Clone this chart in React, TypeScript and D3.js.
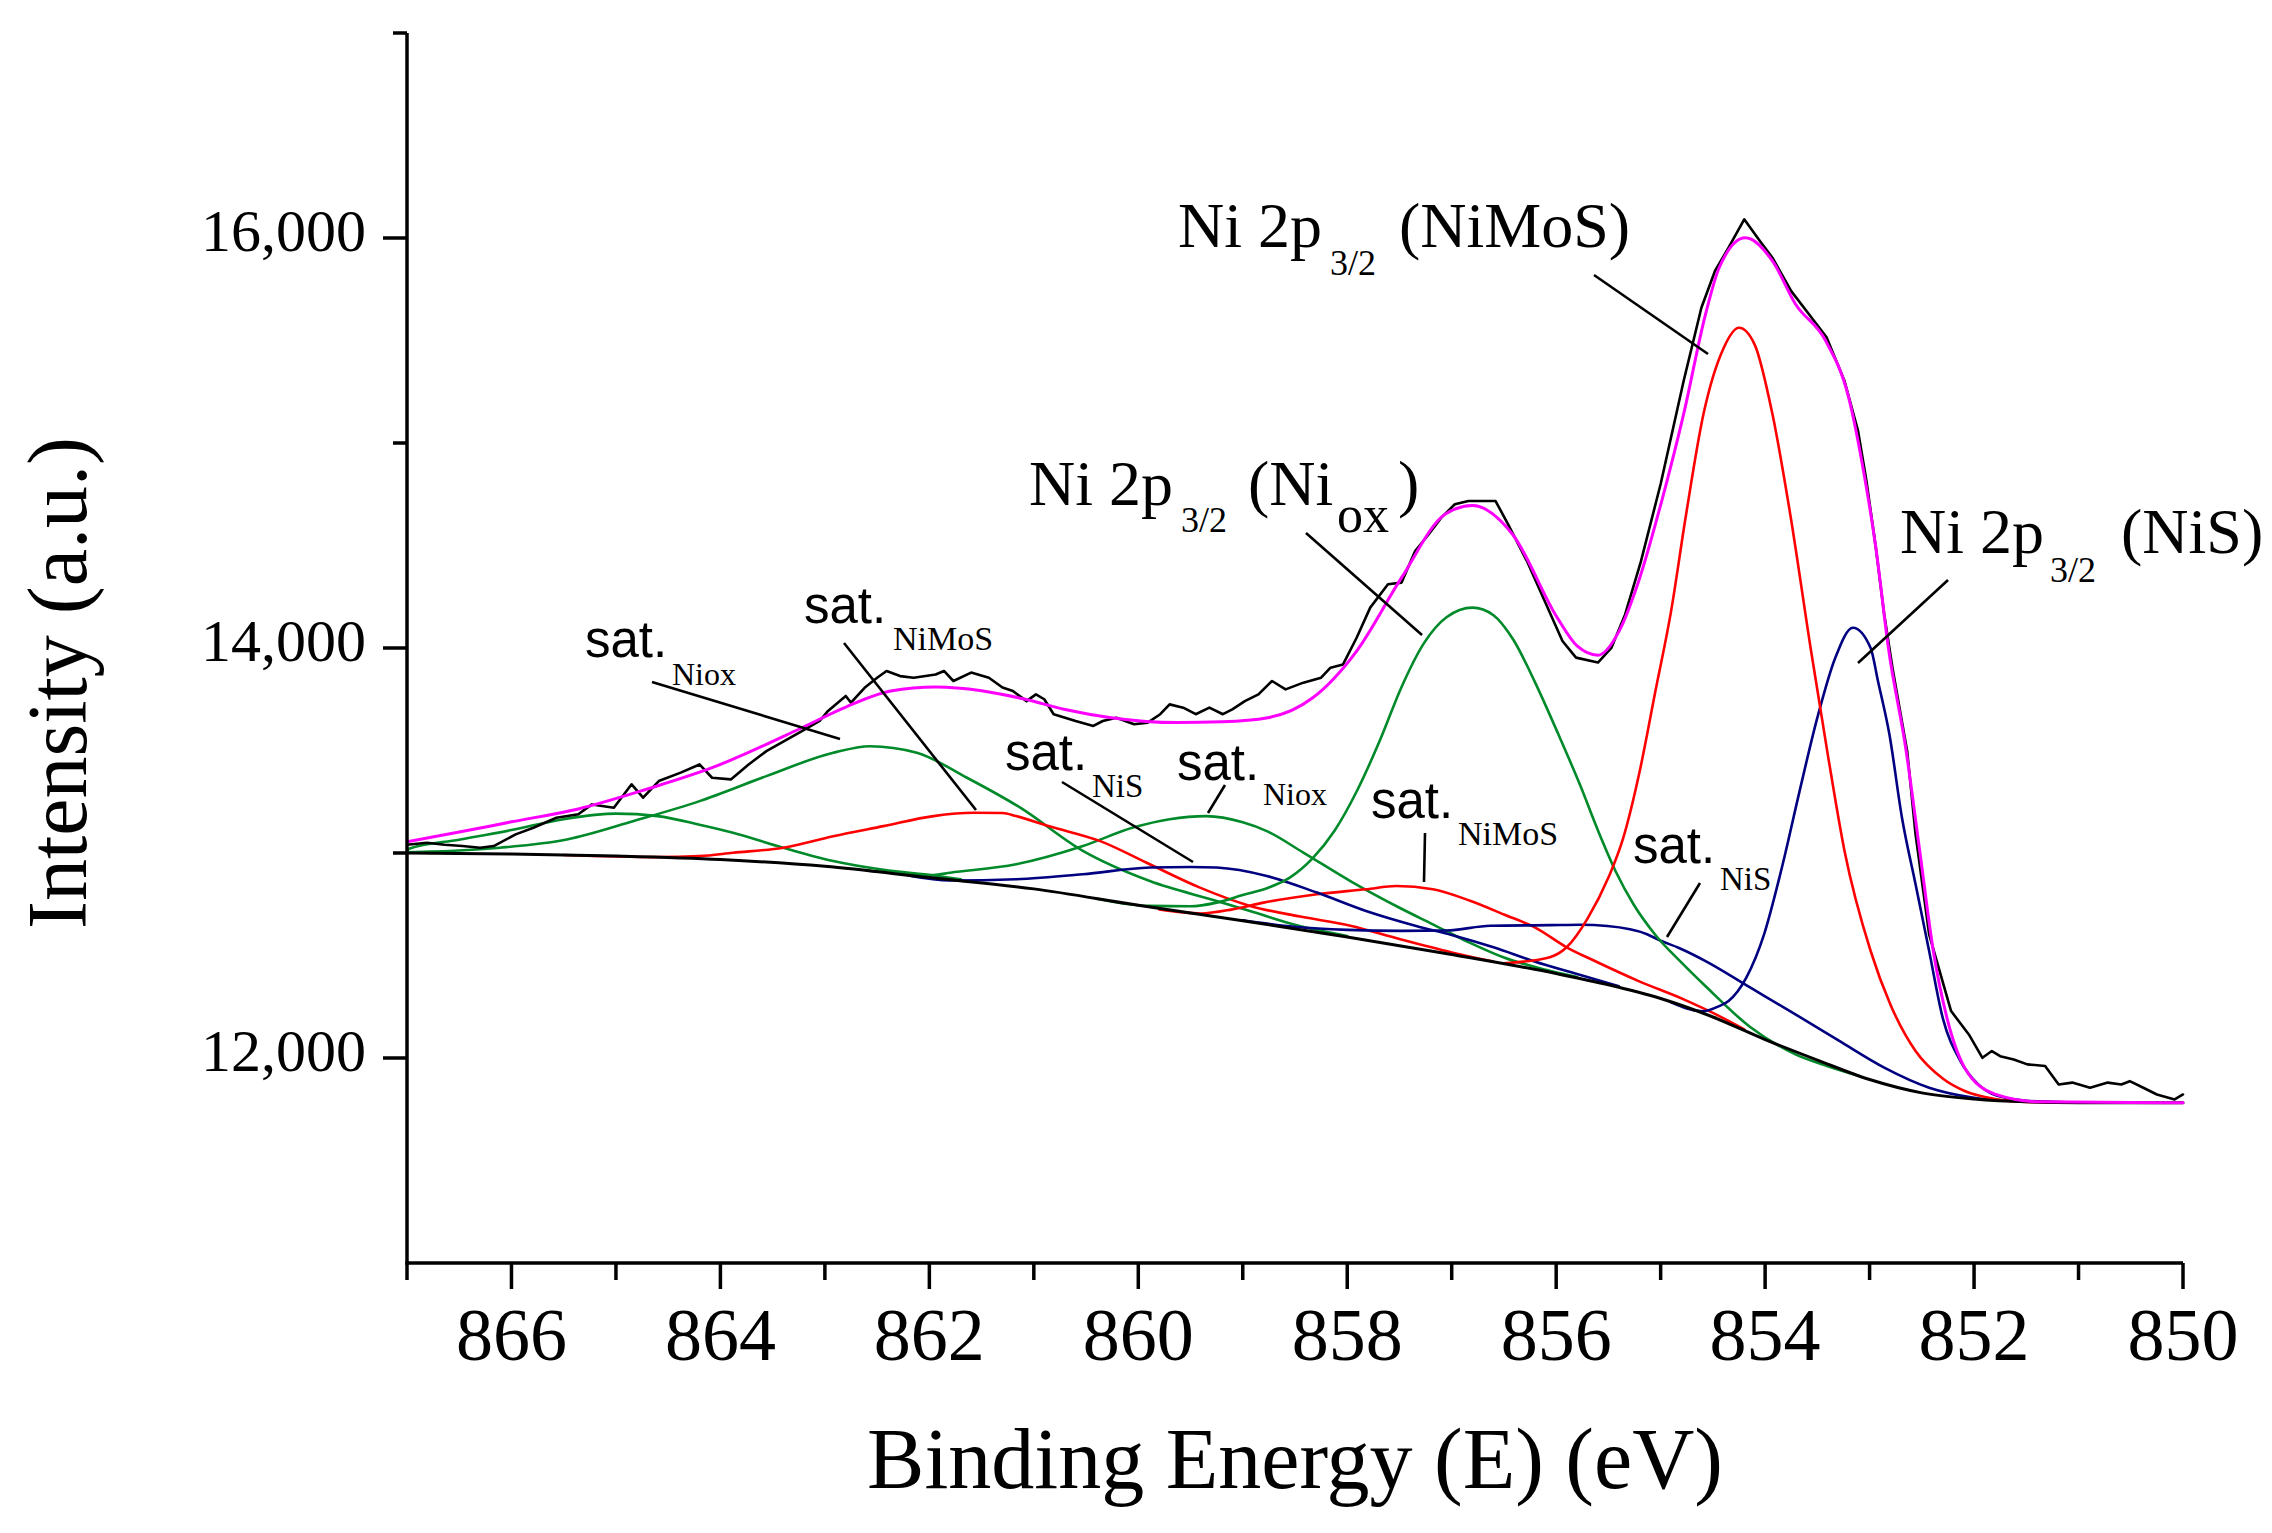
import React from "react";
import * as d3 from "d3";

type Pt = [number, number];

// ---------- DATA (binding energy eV, intensity a.u.) ----------
const xTicks = [866, 864, 862, 860, 858, 856, 854, 852, 850];
const xMinorTicks = [867, 865, 863, 861, 859, 857, 855, 853, 851];
const yTicks = [12000, 14000, 16000];
const yMinorTicks = [13000, 15000, 17000];

const background: Pt[] = [
  [867, 13000], [866, 12995], [865, 12985], [864, 12968], [863, 12935], [862, 12880],
  [861, 12825], [860, 12745], [859, 12670], [858, 12590], [857, 12505], [856, 12412],
  [855.5, 12357], [855, 12290], [854.5, 12200], [854, 12090], [853.5, 11990], [853, 11895],
  [852.5, 11830], [852, 11800], [851.5, 11786], [851, 11782], [850, 11782],
];

const envelope: Pt[] = [
  [867, 13055], [866.5, 13102], [866, 13152], [865.36, 13215], [864.7, 13312], [864.08, 13416],
  [863.22, 13611], [862.8, 13712], [862.37, 13790], [861.94, 13810], [861.5, 13792], [861.09, 13751],
  [860.7, 13700], [860.26, 13660], [859.62, 13636], [859.2, 13640], [858.76, 13660], [858.33, 13757],
  [857.91, 13985], [857.48, 14343], [857.06, 14654], [856.8, 14695], [856.42, 14556], [855.99, 14148],
  [855.8, 14010], [855.6, 13965], [855.4, 14080], [855.21, 14327], [854.99, 14717], [854.78, 15141],
  [854.57, 15629], [854.44, 15855], [854.19, 16001], [853.93, 15888], [853.71, 15678], [853.42, 15498],
  [853.2, 15221], [853.07, 14898], [852.94, 14489], [852.82, 14001], [852.65, 13498], [852.52, 13010],
  [852.39, 12522], [852.26, 12197], [852.09, 11953], [851.8, 11824], [851.36, 11786], [850, 11782],
];

const rawData: Pt[] = [
  [867, 13040], [866.81, 13050], [866.64, 13040], [866.47, 13034], [866.3, 13026], [866.17, 13034],
  [865.96, 13091], [865.79, 13123], [865.57, 13172], [865.36, 13189], [865.23, 13237], [865.02, 13221],
  [864.85, 13335], [864.74, 13270], [864.59, 13351], [864.38, 13392], [864.2, 13432], [864.08, 13367],
  [863.9, 13359], [863.73, 13432], [863.56, 13497], [863.39, 13546], [863.22, 13595], [863.05, 13644],
  [862.97, 13693], [862.8, 13766], [862.75, 13733], [862.62, 13806], [862.5, 13855], [862.41, 13888],
  [862.28, 13863], [862.15, 13855], [861.94, 13871], [861.86, 13888], [861.77, 13839], [861.6, 13880],
  [861.43, 13855], [861.3, 13807], [861.2, 13790], [861.07, 13741], [860.98, 13774], [860.9, 13750],
  [860.81, 13677], [860.6, 13644], [860.43, 13620], [860.34, 13644], [860.21, 13660], [860.04, 13628],
  [859.91, 13636], [859.79, 13677], [859.7, 13725], [859.57, 13709], [859.45, 13677], [859.32, 13709],
  [859.19, 13677], [859.1, 13701], [858.98, 13741], [858.85, 13774], [858.72, 13839], [858.59, 13798],
  [858.42, 13831], [858.25, 13855], [858.16, 13904], [858.04, 13920], [857.91, 14050], [857.78, 14197],
  [857.61, 14311], [857.48, 14319], [857.35, 14473], [857.22, 14555], [857.1, 14636], [856.97, 14701],
  [856.84, 14717], [856.71, 14717], [856.58, 14717], [856.46, 14603], [856.28, 14424], [856.11, 14229],
  [855.94, 14034], [855.81, 13953], [855.6, 13929], [855.47, 14002], [855.34, 14164], [855.19, 14420],
  [855.0, 14800], [854.78, 15302], [854.61, 15660], [854.48, 15839], [854.35, 15953], [854.2, 16091],
  [854.05, 15985], [853.93, 15904], [853.75, 15741], [853.58, 15628], [853.41, 15514], [853.24, 15302],
  [853.11, 15058], [853.03, 14815], [852.94, 14489], [852.86, 14164], [852.78, 13900], [852.64, 13497],
  [852.56, 13091], [852.43, 12603], [852.22, 12229], [852.05, 12115], [851.92, 12001], [851.83, 12034],
  [851.75, 12009], [851.62, 11993], [851.49, 11969], [851.32, 11961], [851.19, 11871], [851.06, 11880],
  [850.89, 11855], [850.72, 11880], [850.59, 11871], [850.51, 11887], [850.38, 11855], [850.25, 11822],
  [850.08, 11798], [850.0, 11822],
];

// NiMoS components (red)
const nimosMain: Pt[] = [
  [856.5, 12462], [856.06, 12492], [855.9, 12540], [855.7, 12680], [855.5, 12880], [855.36, 13070],
  [855.2, 13400], [855.05, 13790], [854.9, 14180], [854.76, 14640], [854.59, 15141], [854.4, 15460],
  [854.25, 15562], [854.1, 15480], [853.93, 15141], [853.76, 14654], [853.56, 13985], [853.4, 13480],
  [853.24, 13010], [852.99, 12522], [852.8, 12260], [852.56, 12034], [852.3, 11900], [852.09, 11839],
  [851.8, 11800], [851.5, 11786], [851.0, 11782],
];
const nimosSat1: Pt[] = [
  [865.5, 12990], [864.6, 12980], [864.2, 12985], [863.88, 13001], [863.4, 13026], [862.92, 13082],
  [862.44, 13131], [861.96, 13180], [861.58, 13196], [861.3, 13195], [861.17, 13180], [860.85, 13130],
  [860.37, 13059], [859.89, 12945], [859.41, 12831], [858.93, 12742], [858.45, 12690], [857.97, 12645],
  [857.5, 12580], [857.0, 12515], [856.6, 12470],
];
const nimosSat2: Pt[] = [
  [859.8, 12725], [859.4, 12705], [859.1, 12725], [858.8, 12758], [858.29, 12799], [857.82, 12823],
  [857.53, 12839], [857.18, 12823], [856.83, 12768], [856.5, 12700], [856.2, 12636], [855.9, 12540],
  [855.63, 12473], [855.21, 12375], [854.78, 12286], [854.5, 12220], [854.2, 12140],
];

// Ni oxide components (green)
const nioxMain: Pt[] = [
  [860.4, 12777], [859.9, 12742], [859.5, 12740], [859.25, 12758], [859.0, 12795], [858.75, 12832],
  [858.55, 12880], [858.33, 12975], [858.12, 13110], [857.91, 13300], [857.69, 13546], [857.48, 13810],
  [857.27, 14020], [857.05, 14150], [856.8, 14197], [856.6, 14160], [856.41, 14040], [856.2, 13830],
  [855.98, 13580], [855.77, 13330], [855.6, 13110], [855.43, 12910], [855.26, 12750], [855.05, 12600],
  [854.8, 12465], [854.57, 12350], [854.14, 12150], [853.71, 12018], [853.4, 11960], [853.1, 11912],
];
const nioxSat1: Pt[] = [
  [867, 13002], [866.98, 13021], [866.5, 13065], [866, 13112], [865.5, 13165], [865.0, 13192],
  [864.6, 13180], [864.2, 13138], [863.88, 13099], [863.4, 13026], [862.92, 12961], [862.44, 12918],
  [861.96, 12890], [861.7, 12872],
];
const nioxSat2: Pt[] = [
  [867, 13004], [866.5, 13012], [866.11, 13026], [865.47, 13066], [864.83, 13156], [864.2, 13253],
  [863.56, 13375], [862.92, 13489], [862.57, 13521], [862.12, 13489], [861.64, 13367], [861.13, 13221],
  [860.53, 13010], [859.89, 12863], [859.25, 12766], [858.9, 12712], [858.5, 12650], [858.0, 12595],
];
const nioxSat3: Pt[] = [
  [862.6, 12915], [861.96, 12893], [861.8, 12904], [861.17, 12945], [860.53, 13034], [860.05, 13124],
  [859.7, 13165], [859.35, 13180], [859.0, 13150], [858.77, 13107], [858.42, 13002], [857.97, 12863],
  [857.5, 12733], [857.18, 12652], [856.83, 12563], [856.5, 12490], [856.1, 12430], [855.8, 12395],
];

// NiS components (navy)
const nisMain: Pt[] = [
  [854.9, 12272], [854.6, 12228], [854.44, 12253], [854.35, 12278], [854.18, 12392], [854.01, 12603],
  [853.84, 12928], [853.67, 13302], [853.5, 13660], [853.33, 13950], [853.16, 14099], [852.99, 14000],
  [852.92, 13839], [852.81, 13578], [852.69, 13172], [852.56, 12847], [852.43, 12522], [852.3, 12196],
  [852.13, 11985], [851.96, 11871], [851.7, 11806], [851.36, 11787], [851.0, 11783],
];
const nisSat1: Pt[] = [
  [862.2, 12890], [861.8, 12866], [861.17, 12872], [860.53, 12896], [859.89, 12929], [859.5, 12932],
  [859.25, 12929], [858.77, 12888], [858.29, 12807], [857.82, 12717], [857.34, 12644], [857.0, 12600],
  [856.6, 12540], [856.2, 12470], [855.8, 12410], [855.4, 12350],
];
const nisSat2: Pt[] = [
  [859.0, 12672], [858.5, 12640], [858.0, 12625], [857.48, 12620], [857.05, 12622], [856.63, 12645],
  [856.06, 12648], [855.77, 12650], [855.51, 12644], [855.13, 12604], [855.0, 12572], [854.83, 12538],
  [854.57, 12473], [854.14, 12343], [853.71, 12213], [853.29, 12083], [852.86, 11953], [852.43, 11855],
  [852.0, 11806], [851.58, 11790], [851.0, 11783],
];

// ---------- LAYOUT ----------
const W = 2272;
const H = 1533;
const plot = { left: 407, right: 2183, top: 33, bottom: 1263 };

const xScale = d3.scaleLinear().domain([867, 850]).range([plot.left, plot.right]);
const yScale = d3.scaleLinear().domain([11000, 17000]).range([plot.bottom, plot.top]);

const RED = "#ff0000";
const GREEN = "#008a2a";
const NAVY = "#000080";
const MAGENTA = "#ff00ff";

const components: { data: Pt[]; color: string }[] = [
  { data: nioxSat1, color: GREEN },
  { data: nioxSat2, color: GREEN },
  { data: nioxSat3, color: GREEN },
  { data: nimosSat1, color: RED },
  { data: nimosSat2, color: RED },
  { data: nisSat1, color: NAVY },
  { data: nisSat2, color: NAVY },
  { data: nioxMain, color: GREEN },
  { data: nisMain, color: NAVY },
  { data: nimosMain, color: RED },
];

const smooth = d3
  .line<Pt>()
  .x((d) => xScale(d[0]))
  .y((d) => yScale(d[1]))
  .curve(d3.curveMonotoneX);
const straight = d3
  .line<Pt>()
  .x((d) => xScale(d[0]))
  .y((d) => yScale(d[1]));

const sortPts = (pts: Pt[]) => [...pts].sort((a, b) => b[0] - a[0]);

const SERIF = "'Liberation Serif', 'Times New Roman', serif";
const SANS = "'Liberation Sans', Arial, sans-serif";

const leaders: [number, number, number, number][] = [
  [1594, 275, 1708, 354],
  [1306, 533, 1422, 635],
  [1948, 580, 1858, 663],
  [652, 682, 840, 739],
  [844, 643, 976, 810],
  [1062, 782, 1193, 862],
  [1225, 785, 1208, 813],
  [1425, 833, 1424, 882],
  [1700, 883, 1667, 937],
];

const satLabels: { x: number; y: number; sub: string; sx: number; sy: number; size: number }[] = [
  { x: 585, y: 657, sub: "Niox", sx: 672, sy: 685, size: 32 },
  { x: 804, y: 623, sub: "NiMoS", sx: 893, sy: 650, size: 34 },
  { x: 1005, y: 770, sub: "NiS", sx: 1092, sy: 797, size: 33 },
  { x: 1177, y: 780, sub: "Niox", sx: 1263, sy: 805, size: 32 },
  { x: 1371, y: 818, sub: "NiMoS", sx: 1458, sy: 845, size: 34 },
  { x: 1633, y: 863, sub: "NiS", sx: 1720, sy: 890, size: 33 },
];

const fmt = d3.format(",");

export default function App() {
  return (
    <svg
      width={W}
      height={H}
      viewBox={`0 0 ${W} ${H}`}
      style={{ position: "absolute", left: 0, top: 0, background: "#fff" }}
    >
      <defs>
        <clipPath id="plotClip">
          <rect x={plot.left} y={plot.top} width={plot.right - plot.left + 4} height={plot.bottom - plot.top} />
        </clipPath>
      </defs>
      <rect x={0} y={0} width={W} height={H} fill="#fff" />

      <g clipPath="url(#plotClip)" fill="none" strokeLinejoin="round" strokeLinecap="round">
        {components.map((c, i) => (
          <path key={i} d={smooth(sortPts(c.data)) || ""} stroke={c.color} strokeWidth={2.6} />
        ))}
        <path d={smooth(sortPts(background)) || ""} stroke="#000" strokeWidth={3} />
        <path d={straight(sortPts(rawData)) || ""} stroke="#000" strokeWidth={2.6} />
        <path d={smooth(sortPts(envelope)) || ""} stroke={MAGENTA} strokeWidth={3} />
      </g>

      {/* axes */}
      <g stroke="#000" strokeWidth={3.5} fill="none">
        <line x1={plot.left} x2={plot.left} y1={plot.top} y2={plot.bottom + 1.5} />
        <line x1={plot.left - 1.5} x2={plot.right} y1={plot.bottom} y2={plot.bottom} />
        {xTicks.map((t) => (
          <line key={"xt" + t} x1={xScale(t)} x2={xScale(t)} y1={plot.bottom} y2={plot.bottom + 26} />
        ))}
        {xMinorTicks.map((t) => (
          <line key={"xm" + t} x1={xScale(t)} x2={xScale(t)} y1={plot.bottom} y2={plot.bottom + 17} />
        ))}
        {yTicks.map((t) => (
          <line key={"yt" + t} x1={plot.left} x2={plot.left - 24} y1={yScale(t)} y2={yScale(t)} />
        ))}
        {yMinorTicks.map((t) => (
          <line key={"ym" + t} x1={plot.left} x2={plot.left - 14} y1={yScale(t)} y2={yScale(t)} />
        ))}
      </g>

      <g fontFamily={SERIF} fill="#000">
        {xTicks.map((t) => (
          <text key={"xl" + t} x={xScale(t)} y={1360} fontSize={74} textAnchor="middle">
            {t}
          </text>
        ))}
        {yTicks.map((t) => (
          <text key={"yl" + t} x={366} y={yScale(t) + 13} fontSize={60} textAnchor="end">
            {fmt(t)}
          </text>
        ))}
        <text x={(plot.left + plot.right) / 2} y={1488} fontSize={86} textAnchor="middle">
          Binding Energy (E) (eV)
        </text>
        <text transform="translate(86,683) rotate(-90)" fontSize={84} textAnchor="middle">
          Intensity (a.u.)
        </text>
      </g>

      {/* leader lines */}
      <g stroke="#000" strokeWidth={2.6}>
        {leaders.map((l, i) => (
          <line key={i} x1={l[0]} y1={l[1]} x2={l[2]} y2={l[3]} />
        ))}
      </g>

      {/* main peak labels */}
      <g fontFamily={SERIF} fill="#000">
        <text x={1178} y={247} fontSize={64}>Ni 2p</text>
        <text x={1330} y={275} fontSize={36}>3/2</text>
        <text x={1399} y={247} fontSize={64}>(NiMoS)</text>

        <text x={1029} y={505} fontSize={64}>Ni 2p</text>
        <text x={1181} y={532} fontSize={36}>3/2</text>
        <text x={1248} y={505} fontSize={64}>(Ni</text>
        <text x={1337} y={532} fontSize={52}>ox</text>
        <text x={1398} y={505} fontSize={64}>)</text>

        <text x={1900} y={553} fontSize={64}>Ni 2p</text>
        <text x={2050} y={582} fontSize={36}>3/2</text>
        <text x={2121} y={553} fontSize={64}>(NiS)</text>
      </g>

      {/* satellite labels */}
      <g fill="#000">
        {satLabels.map((s, i) => (
          <g key={i}>
            <text x={s.x} y={s.y} fontFamily={SANS} fontSize={51}>sat.</text>
            <text x={s.sx} y={s.sy} fontFamily={SERIF} fontSize={s.size}>{s.sub}</text>
          </g>
        ))}
      </g>
    </svg>
  );
}
